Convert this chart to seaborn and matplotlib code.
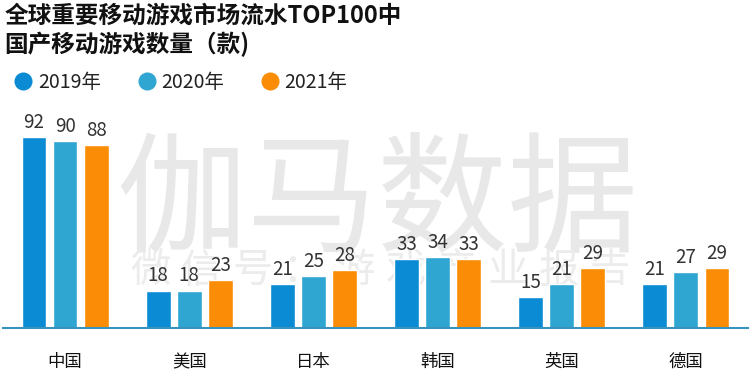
import matplotlib
matplotlib.use("Agg")
import matplotlib.pyplot as plt
from matplotlib.lines import Line2D
import seaborn as sns
import pandas as pd
import numpy as np

countries = ["中国", "美国", "日本", "韩国", "英国", "德国"]
years = ["2019年", "2020年", "2021年"]
v2019 = [92, 18, 21, 33, 15, 21]
v2020 = [90, 18, 25, 34, 21, 27]
v2021 = [88, 23, 28, 33, 29, 29]
colors = ["#0a8bd3", "#2fa5d2", "#fb8c06"]

title = "全球重要移动游戏市场流水TOP100中\n国产移动游戏数量（款)"
watermark1 = "伽马数据"
watermark2 = "微信号：游戏产业报告"

rows = []
for y, vals in zip(years, [v2019, v2020, v2021]):
    for c, v in zip(countries, vals):
        rows.append({"country": c, "year": y, "value": v})
df = pd.DataFrame(rows)

sns.set_theme(style="white")
plt.rcParams["font.family"] = ["Noto Sans CJK SC", "DejaVu Sans"]

fig = plt.figure(figsize=(7.5, 3.87), dpi=100)
ax = fig.add_axes([0.004, 0.1525, 0.9933, 0.5633])

sns.barplot(data=df, x="country", y="value", hue="year", order=countries,
            hue_order=years, palette=dict(zip(years, colors)), width=0.75,
            gap=0.2, saturation=1, legend=False, ax=ax, zorder=2)

for cont in ax.containers:
    ax.bar_label(cont, padding=3, fontsize=13.5, color="#333333")

ax.set_xlim(-0.5, 5.5)
ax.set_ylim(0, 105)
ax.set_xlabel("")
ax.set_ylabel("")
ax.set_yticks([])
ax.tick_params(axis="x", length=0, pad=18, labelsize=12.5, labelcolor="#111111")
for s in ["top", "right", "left"]:
    ax.spines[s].set_visible(False)
ax.spines["bottom"].set_color("#3a93bf")
ax.spines["bottom"].set_linewidth(1.5)

# watermark
fig.text(0.503, 0.47, watermark1, fontsize=94, color="#e8e8e8",
         ha="center", va="center", zorder=0.5)
xs = np.linspace(150, 610, len(watermark2)) / 750
for ch, xx in zip(watermark2, xs):
    fig.text(xx, 0.30, ch, fontsize=29, color="#ececec",
             ha="center", va="center", zorder=0.5)
ax.set_zorder(1)
ax.patch.set_alpha(0)

fig.text(0.006, 0.99, title, fontsize=17, fontweight="bold", color="#111111",
         ha="left", va="top", linespacing=1.2)

handles = [Line2D([0], [0], marker="o", linestyle="none", markersize=12,
                  markerfacecolor=c, markeredgecolor=c) for c in colors]
fig.legend(handles, years, loc="upper left", bbox_to_anchor=(-0.004, 0.86),
           ncol=3, frameon=False, fontsize=14, handlelength=0.9,
           handletextpad=0.3, columnspacing=1.9, labelcolor="#222222")

fig.savefig("out.png", dpi=100)
